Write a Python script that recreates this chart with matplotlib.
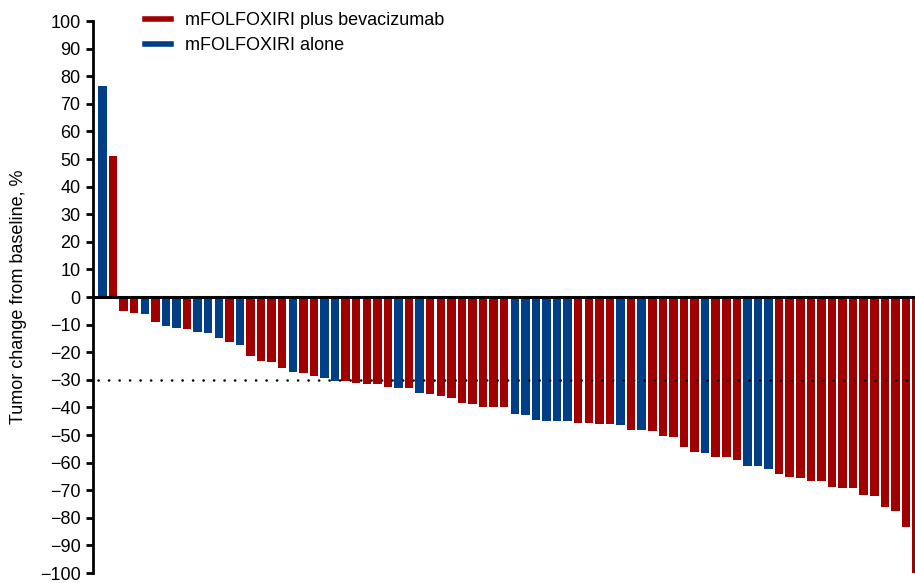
import matplotlib
matplotlib.use("Agg")
import matplotlib.pyplot as plt
from matplotlib.lines import Line2D

plt.rcParams['font.family'] = ['Liberation Sans', 'DejaVu Sans']

# Best change from baseline per patient (%), ordered as in the waterfall
values = [76.5, 51.0, -4.9, -5.8, -6.2, -9.2, -10.6, -11.3, -11.7, -12.7,
          -13.2, -14.7, -16.4, -17.3, -21.5, -23.3, -23.5, -25.7, -27.2, -27.7,
          -28.5, -29.3, -30.3, -30.6, -31.1, -31.4, -31.4, -32.6, -32.9, -32.9,
          -34.8, -35.3, -36.0, -36.5, -38.4, -38.6, -39.7, -39.7, -39.8, -42.5,
          -42.6, -44.5, -44.9, -44.9, -45.1, -45.5, -45.5, -45.9, -46.1, -46.5,
          -48.1, -48.3, -48.6, -50.3, -50.9, -54.3, -56.3, -56.7, -58.1, -58.1,
          -59.1, -61.4, -61.4, -62.2, -64.0, -65.3, -65.7, -66.8, -66.8, -68.9,
          -69.2, -69.2, -71.8, -72.2, -76.0, -77.6, -83.5, -100.0]
# 'B' = mFOLFOXIRI plus bevacizumab, 'A' = mFOLFOXIRI alone
arms = ['A', 'B', 'B', 'B', 'A', 'B', 'A', 'A', 'B', 'A',
        'A', 'A', 'B', 'A', 'B', 'B', 'B', 'B', 'A', 'B',
        'B', 'A', 'A', 'B', 'B', 'B', 'B', 'B', 'A', 'B',
        'A', 'B', 'B', 'B', 'B', 'B', 'B', 'B', 'B', 'A',
        'A', 'A', 'A', 'A', 'A', 'B', 'B', 'B', 'B', 'A',
        'B', 'A', 'B', 'B', 'B', 'B', 'B', 'A', 'B', 'B',
        'B', 'A', 'A', 'A', 'B', 'B', 'B', 'B', 'B', 'B',
        'B', 'B', 'B', 'B', 'B', 'B', 'B', 'B']
labels = {'B': 'mFOLFOXIRI plus bevacizumab', 'A': 'mFOLFOXIRI alone'}
colors = {'B': '#a10000', 'A': '#003f87'}
threshold = -30
yticks = list(range(-100, 101, 10))

FS = 13

fig = plt.figure(figsize=(9.15, 5.83), dpi=100)
ax = fig.add_axes([93/915, 1 - 573/583, 1 - 93/915, (573 - 21)/583])

x = list(range(1, len(values) + 1))
ax.bar(x, values, width=0.8, color=[colors[a] for a in arms], zorder=2)

ax.axhline(0, color='black', lw=2.2, zorder=3)
ax.plot([0.6, len(values) + 1], [threshold, threshold], color='black', lw=1.8,
        linestyle=(0, (0.1, 4.1)), dash_capstyle='round', zorder=4)

ax.set_xlim(0.1, 77.85)
ax.set_ylim(-100, 100)
ax.set_yticks(yticks)
ax.set_yticklabels([str(t).replace('-', '\u2212') for t in yticks])
ax.tick_params(axis='y', direction='out', length=5, width=2, labelsize=FS, pad=4)
ax.set_xticks([])
for s in ['top', 'right', 'bottom']:
    ax.spines[s].set_visible(False)
ax.spines['left'].set_linewidth(2)
ax.set_ylabel('Tumor change from baseline, %', fontsize=FS)
ax.yaxis.set_label_coords(-(93 - 27) / (915 - 93), 0.5)

handles = [Line2D([0], [0], color=colors['B'], lw=4),
           Line2D([0], [0], color=colors['A'], lw=4)]
fig.legend(handles, [labels['B'], labels['A']], loc='upper left',
           bbox_to_anchor=(145/915, 1 - 12/583), frameon=False, fontsize=FS,
           handlelength=1.45, handletextpad=0.75, labelspacing=0.45, borderpad=0,
           borderaxespad=0)

fig.savefig('out.png', dpi=100)
